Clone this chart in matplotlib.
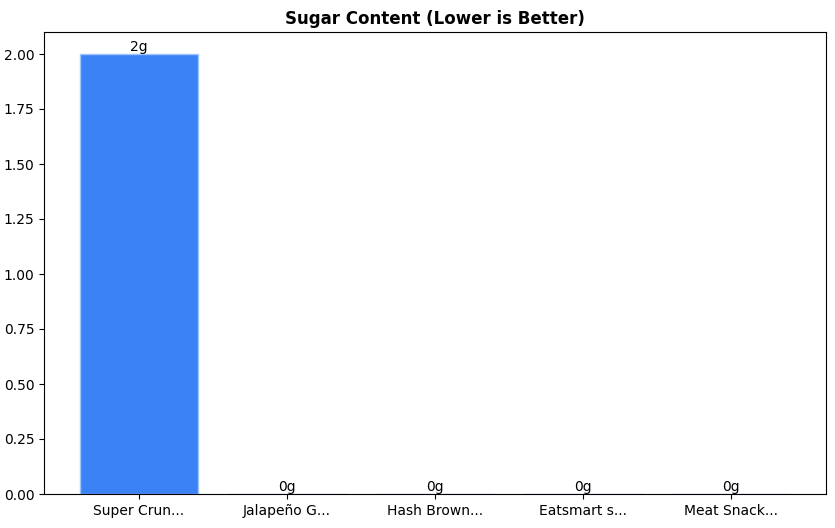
import matplotlib
matplotlib.use('Agg')
import matplotlib.pyplot as plt

products = ['Super Crun...', 'Jalapeño G...', 'Hash Brown...', 'Eatsmart s...', 'Meat Snack...']
sugar = [2, 0, 0, 0, 0]
labels = ['2g', '0g', '0g', '0g', '0g']

fig = plt.figure(figsize=(8.35, 5.28), dpi=100)
ax = fig.add_axes([44/835, 34/528, 782/835, 462/528])
bars = ax.bar(products, sugar, color='#3b82f6', edgecolor='#a0c4fb', linewidth=1, width=0.8)
for b, lab in zip(bars, labels):
    ax.text(b.get_x() + b.get_width()/2, b.get_height(), lab, ha='center', va='bottom', fontsize=10)
ax.set_ylim(0, 2.1)
ax.set_title('Sugar Content (Lower is Better)', fontweight='bold', fontsize=12)
fig.savefig('out.png', dpi=100)
